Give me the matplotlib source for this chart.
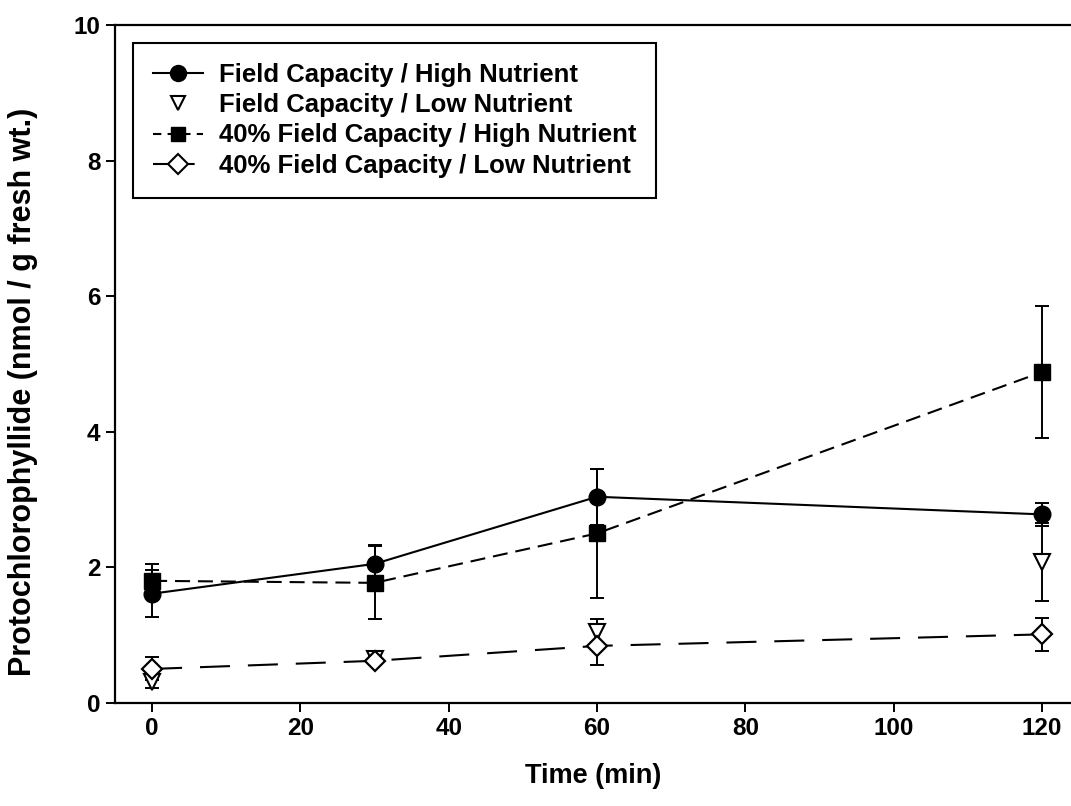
import matplotlib.pyplot as plt
from matplotlib.lines import Line2D

plt.rcParams['font.family'] = ['Liberation Sans', 'DejaVu Sans']

time = [0, 30, 60, 120]

fc_hn = [1.61, 2.05, 3.04, 2.78]
fc_hn_err = [0.35, 0.28, 0.41, 0.17]

fc_ln = [0.30, 0.65, 1.05, 2.08]
fc_ln_err = [0.08, 0.05, 0.18, 0.58]

dry_hn = [1.80, 1.77, 2.50, 4.88]
dry_hn_err = [0.25, 0.54, 0.95, 0.98]

dry_ln = [0.50, 0.62, 0.84, 1.01]
dry_ln_err = [0.17, 0.05, 0.28, 0.24]

labels = ["Field Capacity / High Nutrient",
          "Field Capacity / Low Nutrient",
          "40% Field Capacity / High Nutrient",
          "40% Field Capacity / Low Nutrient"]

short_dash = (0, (7.2, 3.8))
long_dash = (0, (14.4, 8.6))

fig = plt.figure(figsize=(10.71, 8.06), dpi=100)
ax = fig.add_axes([0.1074, 0.128, 0.8926, 0.841])

ekw = dict(fmt='none', ecolor='black', elinewidth=1.4, capsize=5, capthick=1.4, zorder=2)
ax.errorbar(time, fc_hn, yerr=fc_hn_err, **ekw)
ax.errorbar(time, fc_ln, yerr=fc_ln_err, **ekw)
ax.errorbar(time, dry_hn, yerr=dry_hn_err, **ekw)
ax.errorbar(time, dry_ln, yerr=dry_ln_err, **ekw)

ax.plot(time, fc_hn, '-o', color='black', lw=1.5, ms=12, zorder=3)
ax.plot(time, fc_ln, 'v', color='black', ms=11, mfc='white', mew=1.5, zorder=3)
ax.plot(time, dry_hn, 's', ls=short_dash, color='black', lw=1.5, ms=11.5, zorder=3)
ax.plot(time, dry_ln, 'D', ls=long_dash, color='black', lw=1.5, ms=10, mfc='white', mew=1.6, zorder=3)

handles = [
    Line2D([], [], color='black', lw=1.5, marker='o', ms=11.5),
    Line2D([], [], color='black', ls='none', marker='v', ms=10, mfc='white', mew=1.5),
    Line2D([], [], color='black', lw=1.5, ls=(0, (4, 3)), marker='s', ms=10),
    Line2D([], [], color='black', lw=1.5, ls=(0, (8, 4)), marker='D', ms=10, mfc='white', mew=1.5),
]

ax.set_xlim(-5.0, 123.9)
ax.set_ylim(0, 10)
ax.set_xticks([0, 20, 40, 60, 80, 100, 120])
ax.set_yticks([0, 2, 4, 6, 8, 10])
ax.tick_params(direction='out', length=6.5, width=1.4, labelsize=17.5, pad=4)
for lab in ax.get_xticklabels() + ax.get_yticklabels():
    lab.set_fontweight('bold')
for s in ['left', 'bottom', 'top']:
    ax.spines[s].set_linewidth(1.6)
ax.spines['right'].set_visible(False)

ax.set_xlabel("Time (min)", fontsize=19.5, fontweight='bold', labelpad=16)
ax.set_ylabel("Protochlorophyllide (nmol / g fresh wt.)", fontsize=22, fontweight='bold')
ax.yaxis.set_label_coords(-0.081, 0.459)

leg = ax.legend(handles, labels, loc='upper left', bbox_to_anchor=(0.019, 0.974), borderaxespad=0,
                prop={'size': 18.5, 'weight': 'bold'}, frameon=True, fancybox=False,
                edgecolor='black', framealpha=1, handlelength=1.95, borderpad=0.78,
                labelspacing=0.25, handletextpad=0.6)
leg.get_frame().set_linewidth(1.5)

fig.savefig("out.png", dpi=100)
